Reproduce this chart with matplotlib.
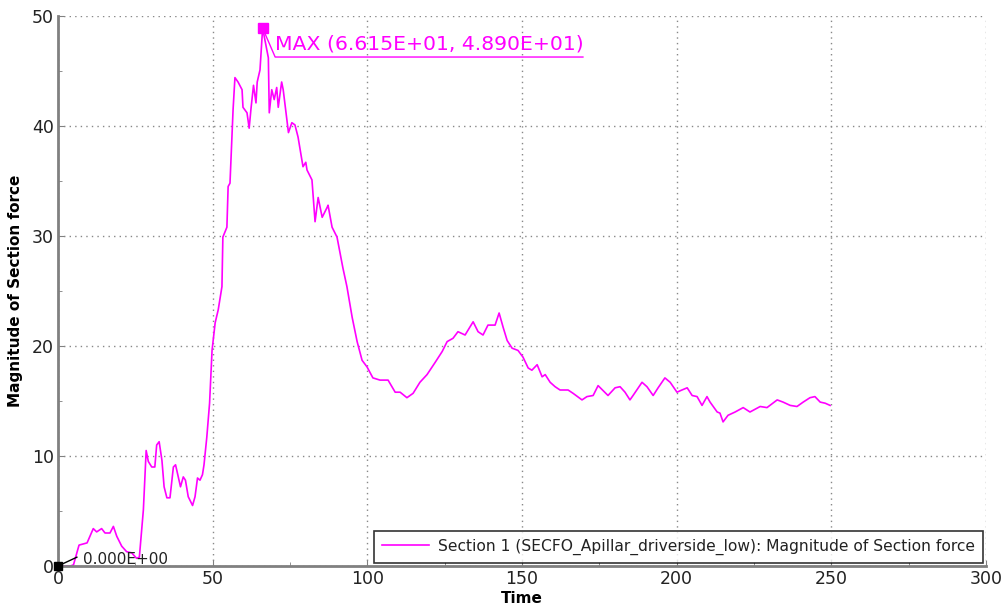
import matplotlib
matplotlib.use("Agg")
from matplotlib import pyplot as plt
from matplotlib.ticker import MultipleLocator

# curve (time, section force magnitude)
time = [0, 4, 5, 6.8, 9.4, 11.4, 12.5, 14.1, 15.2, 16.8, 17.9, 19, 20.6, 22.2, 23.8,
        25.4, 26.3, 27.6, 28.5, 29.2, 30.3, 31.3, 31.9, 32.7, 33.6, 34.3, 35.2, 36.2,
        37.3, 38, 38.9, 39.6, 40.5, 41.2, 42.1, 43.5, 44.3, 45.1, 45.9, 46.7, 47.2,
        48.1, 49, 49.8, 50.8, 51.8, 53, 53.3, 54.6, 55, 55.6, 56.6, 57.2, 58.2, 59.5,
        59.8, 61.1, 61.8, 62.4, 63.2, 64, 64.4, 65.3, 66.15, 68, 68.3, 69.1, 69.9,
        70.7, 71.2, 72.3, 72.8, 74.5, 75.6, 76.6, 77.6, 79.2, 80.1, 80.5, 82.1, 83.1,
        84.1, 85.4, 87, 87.3, 88.6, 90.2, 92.1, 93.4, 95.1, 96.7, 98.3, 99.9, 101.8,
        104.1, 106.7, 109, 110.6, 112.8, 114.8, 117, 119.3, 121.9, 124.2, 125.8,
        127.7, 129.3, 131.6, 134.2, 135.8, 137.4, 139, 141.3, 142.6, 143.9, 145.2,
        146.8, 148.7, 150.3, 152, 153.2, 154.9, 156.5, 157.5, 159.1, 160.7, 162.3,
        164.9, 166.5, 169.4, 171, 173, 174.6, 177.8, 180.1, 181.7, 183.3, 184.9,
        185.9, 188.8, 190.4, 192.4, 194, 196.2, 197.9, 200.1, 201.7, 203.4, 205,
        206.6, 208.2, 209.8, 210.8, 213.1, 214, 215, 216.6, 218.9, 221.5, 223.7,
        227, 229.2, 232.5, 234.4, 236.7, 238.9, 240.9, 243.1, 244.7, 246.4, 248,
        249.6]
force = [0, 0, 0.1, 1.9, 2.1, 3.4, 3.1, 3.4, 3.0, 3.0, 3.6, 2.7, 1.8, 1.3, 1.2,
         0.7, 0.8, 5.1, 10.5, 9.5, 9.0, 9.0, 11.0, 11.3, 9.6, 7.2, 6.2, 6.2,
         9.0, 9.2, 8.1, 7.2, 8.1, 7.8, 6.3, 5.5, 6.3, 8.0, 7.8, 8.3, 9.2,
         11.7, 14.8, 19.6, 22.1, 23.3, 25.4, 29.9, 30.8, 34.5, 34.8, 41.5, 44.4, 44.0, 43.3,
         41.7, 41.2, 39.8, 41.6, 43.7, 42.1, 44.0, 45.1, 48.9, 46.2, 41.2, 43.3, 42.4,
         43.5, 41.7, 44.0, 43.3, 39.4, 40.3, 40.1, 39.0, 36.3, 36.7, 36.0, 35.1, 31.3,
         33.5, 31.7, 32.6, 32.8, 30.8, 29.9, 27.1, 25.4, 22.6, 20.4, 18.7, 18.1, 17.1,
         16.9, 16.9, 15.8, 15.8, 15.3, 15.7, 16.7, 17.4, 18.5, 19.5, 20.4,
         20.7, 21.3, 21.0, 22.2, 21.3, 21.0, 21.9, 21.9, 23.0, 21.7, 20.5,
         19.8, 19.6, 19.0, 18.0, 17.8, 18.3, 17.2, 17.4, 16.7, 16.3, 16.0,
         16.0, 15.7, 15.1, 15.4, 15.5, 16.4, 15.5, 16.2, 16.3, 15.8, 15.1,
         15.5, 16.7, 16.3, 15.5, 16.2, 17.1, 16.7, 15.8, 16.0, 16.2, 15.5,
         15.4, 14.6, 15.4, 14.9, 14.0, 13.9, 13.1, 13.7, 14.0, 14.4, 14.0,
         14.5, 14.4, 15.1, 14.9, 14.6, 14.5, 14.9, 15.3, 15.4, 14.9, 14.8,
         14.6]

max_t, max_f = 66.15, 48.90
series_label = "Section 1 (SECFO_Apillar_driverside_low): Magnitude of Section force"

fig = plt.figure(figsize=(10.01, 6.06), dpi=100)
ax = fig.add_axes([58 / 1001, 40 / 606, 928 / 1001, 550 / 606])

ax.plot(time, force, color="#ff00ff", lw=1.2, label=series_label)

# max marker + label with leader line
ax.plot([max_t], [max_f], marker="s", ms=7, color="#ff00ff", ls="none")
ax.plot([max_t, 70.2, 169.7], [max_f, 46.27, 46.27], color="#ff00ff", lw=1)
ax.text(70.2, 46.55, "MAX (6.615E+01, 4.890E+01)", color="#ff00ff", fontsize=14.7,
        ha="left", va="bottom")

# zero marker + label
ax.plot([0], [0], marker="s", ms=6, color="black", clip_on=False, ls="none", zorder=5)
ax.plot([0, 6.1], [0, 0.8], color="black", lw=1, clip_on=False)
ax.text(8.1, 0.2, "0.000E+00", color="#222222", fontsize=11, ha="left", va="baseline")

ax.set_xlim(0, 300)
ax.set_ylim(0, 50)
ax.xaxis.set_major_locator(MultipleLocator(50))
ax.xaxis.set_minor_locator(MultipleLocator(25))
ax.yaxis.set_major_locator(MultipleLocator(10))
ax.yaxis.set_minor_locator(MultipleLocator(5))
ax.grid(True, which="major", ls=(0, (1, 3)), color="#888888", lw=1)
ax.tick_params(which="both", direction="in", colors="#808080", labelcolor="#222222",
               labelsize=12.5)
ax.tick_params(which="major", length=4, pad=3)
ax.tick_params(which="minor", length=3)

for side in ["top", "right"]:
    ax.spines[side].set_visible(False)
for side in ["left", "bottom"]:
    ax.spines[side].set_color("#808080")
    ax.spines[side].set_linewidth(2)

ax.set_xlabel("Time", fontweight="bold", fontsize=11, labelpad=2)
ax.set_ylabel("Magnitude of Section force", fontweight="bold", fontsize=11, labelpad=6)

leg = ax.legend(loc="lower right", fontsize=11.2, frameon=True, fancybox=False,
                borderaxespad=0.2, handlelength=3.0, borderpad=0.5, handletextpad=0.6)
leg.get_frame().set_edgecolor("black")
leg.get_frame().set_linewidth(1.2)
for t in leg.get_texts():
    t.set_color("#222222")

fig.savefig("out.png", dpi=100)
